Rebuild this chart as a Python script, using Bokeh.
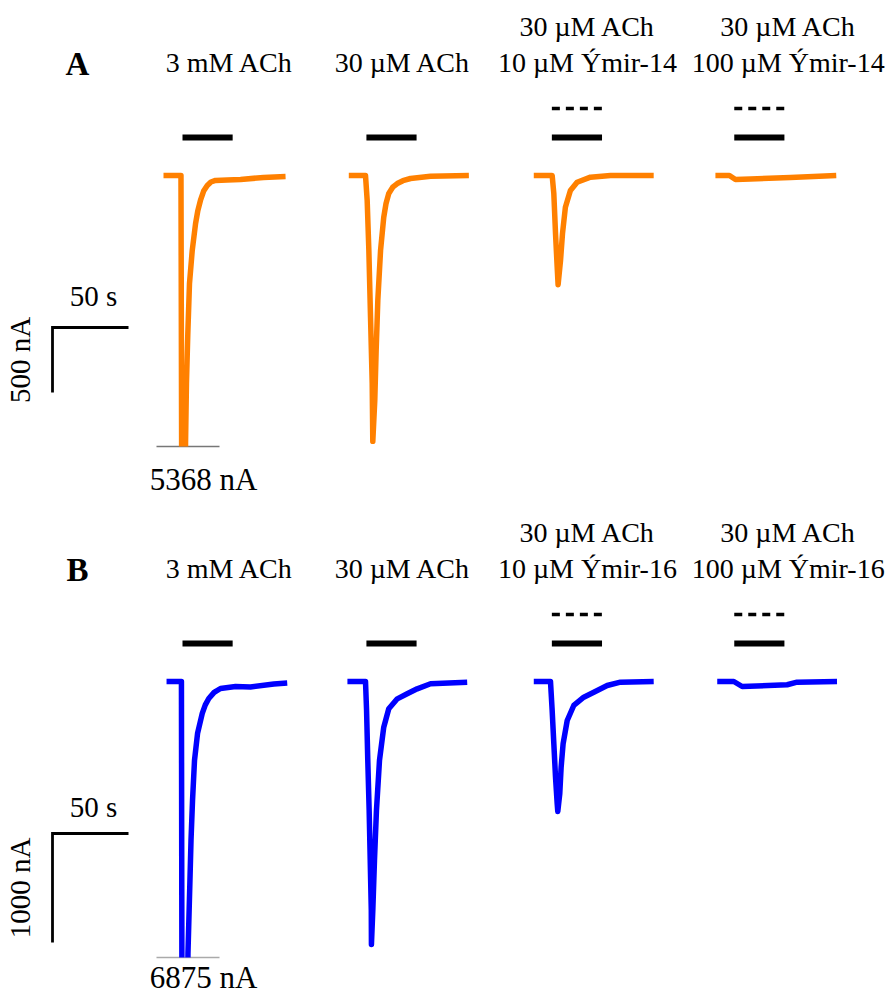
import numpy as np
from bokeh.plotting import figure
from bokeh.layouts import column
from bokeh.models import Range1d
from bokeh.embed import file_html
from bokeh.resources import INLINE
from bokeh.core.properties import value

# ------------------------------------------------------------------ data
# condition labels (two text rows above each trace)
row1_A = ["", "", "30 µM ACh", "30 µM ACh"]
row2_A = ["3 mM ACh", "30 µM ACh", "10 µM Ýmir-14", "100 µM Ýmir-14"]
row1_B = ["", "", "30 µM ACh", "30 µM ACh"]
row2_B = ["3 mM ACh", "30 µM ACh", "10 µM Ýmir-16", "100 µM Ýmir-16"]
toxin_present = [False, False, True, True]

# application window (s, relative to start of each recording)
ach_start, ach_end = 12.5, 45.5

# peak of truncated first responses (nA)
peak_A, peak_B = 5368, 6875

# scale bars
scale_time = 50          # s
scale_cur_A = 500        # nA
scale_cur_B = 1000       # nA

# current traces: time (s) and current (nA)
a1_t = [0, 11.5, 12.6, 14.5, 15.1, 16.0, 17.1, 18.9, 21.1, 22.6, 24.3, 26.4, 28.8, 31.2, 34.2, 42.0, 50.7, 65.8, 80.3]
a1_i = [0, 0, -5368, -2061, -1600, -1215, -830, -577, -369, -270, -192, -120, -77, -50, -38, -35, -31, -15, -8]

a2_t = [0.9, 11.9, 13.0, 14.1, 15.2, 16.3, 16.7, 18.0, 18.9, 20.0, 21.8, 23.9, 25.4, 27.2, 29.8, 32.8, 36.5, 41.5, 54.7, 79.9]
a2_i = [0, 0, -192, -577, -1090, -1600, -2045, -1730, -1346, -961, -577, -321, -215, -138, -90, -62, -40, -23, -5, 0]

a3_t = [0.6, 12.7, 13.8, 14.9, 16.0, 16.6, 18.2, 19.5, 21.4, 24.7, 29.1, 37.9, 51.1, 79.5]
a3_i = [0, 0, -141, -446, -705, -840, -654, -446, -244, -115, -52, -13, 0, 0]

a4_t = [0.1, 9.3, 13.3, 23.2, 49.5, 79.6]
a4_i = [0, 0, -31, -27, -15, 0]

b1_t = [2.0, 11.8, 12.6, 16.1, 17.4, 18.1, 19.1, 20.4, 22.4, 25.5, 27.5, 29.8, 33.3, 37.5, 47.4, 57.2, 72.6, 81.4]
b1_i = [0, 0, -6875, -2494, -1825, -1458, -1091, -724, -477, -293, -215, -156, -100, -64, -46, -50, -23, -14]

b2_t = [0, 11.9, 12.6, 13.4, 14.3, 15.0, 15.7, 15.8, 16.7, 17.8, 19.1, 21.1, 23.9, 27.2, 32.8, 39.3, 45.9, 54.7, 78.8]
b2_i = [0, 0, -266, -724, -1183, -1641, -2100, -2412, -2100, -1641, -1183, -724, -419, -250, -159, -113, -67, -21, -6]

b3_t = [0.6, 11.6, 12.7, 13.8, 14.9, 16.0, 16.4, 17.7, 18.6, 19.9, 22.6, 26.9, 33.5, 40.1, 48.9, 57.6, 79.5]
b3_i = [0, 0, -266, -571, -878, -1121, -1192, -1030, -786, -571, -358, -220, -144, -98, -37, -6, 0]

b4_t = [1.3, 12.2, 17.7, 47.3, 53.8, 80.1]
b4_i = [0, 0, -46, -30, -6, 0]

# ------------------------------------------------------------------ layout
W = 890
H_A, H_B = 506, 492
PX_PER_S = 1.52
PX_PER_NA_A = 0.13
PX_PER_NA_B = 0.109
BASE = 175        # px from top of each panel to trace baseline
LEFT_PX = 163     # px from left edge to time zero of first trace
trace_offsets = [0, 121, 243, 363]          # s
label_centers = [43.4, 157.3, 278.9, 411.0]  # s
SERIF = value("Liberation Serif")
LBL_FS, PEAK_FS, LET_FS, SB_FS = 28, 31, 33, 29


def sx_of(px):
    return (px - LEFT_PX) / PX_PER_S


def baseline_px(px, fs):
    # desired alphabetic baseline (px above trace baseline) -> drawing anchor
    return px + 0.36 * fs


def clip_floor(t, v, floor):
    xs, ys = [], []
    for i in range(len(t)):
        if i > 0:
            t0, v0, t1, v1 = t[i - 1], v[i - 1], t[i], v[i]
            if (v0 >= floor) != (v1 >= floor):
                tc = t0 + (floor - v0) * (t1 - t0) / (v1 - v0)
                xs.append(tc)
                ys.append(floor)
                if v1 < floor:
                    xs.append(np.nan)
                    ys.append(np.nan)
        if v[i] >= floor:
            xs.append(t[i])
            ys.append(v[i])
    return np.array(xs, dtype=float), np.array(ys, dtype=float)


def panel(traces, color, row1, row2, letter, ppn, height, scale_cur,
          peak, break_px, peak_lbl_px, grey, s_lbl_px):
    p = figure(width=W, height=height,
               x_range=Range1d(sx_of(0), sx_of(W)),
               y_range=Range1d(-(height - BASE) / ppn, BASE / ppn),
               output_backend="svg", toolbar_location=None, min_border=0)
    p.axis.visible = False
    p.grid.visible = False
    p.outline_line_color = None
    p.background_fill_color = "white"
    p.border_fill_color = "white"

    floor = -break_px / ppn
    # grey break line for the truncated response
    p.line([sx_of(156), sx_of(219)], [floor, floor], line_color=grey, line_width=1.5)
    p.text(x=[sx_of(203)],
           y=[baseline_px(-break_px - peak_lbl_px, PEAK_FS) / ppn],
           text=[f"{peak} nA"],
           text_font=SERIF, text_font_size=f"{PEAK_FS}px", text_align="center",
           text_baseline="alphabetic", text_color="black")

    for k, (t, i) in enumerate(traces):
        xs, ys = clip_floor(np.array(t) + trace_offsets[k], np.array(i, dtype=float), floor)
        p.line(xs, ys, line_color=color, line_width=5.5, line_join="round", line_cap="butt")
        # ACh application bar
        p.line([trace_offsets[k] + ach_start, trace_offsets[k] + ach_end],
               [38 / ppn, 38 / ppn], line_color="black", line_width=6)
        if toxin_present[k]:
            p.line([trace_offsets[k] + ach_start, trace_offsets[k] + ach_end],
                   [67 / ppn, 67 / ppn], line_color="black", line_width=3.5,
                   line_dash="8 6")

    # labels
    lx, ly, lt = [], [], []
    for k in range(4):
        if row1[k]:
            lx.append(label_centers[k]); ly.append(baseline_px(139, LBL_FS) / ppn); lt.append(row1[k])
        lx.append(label_centers[k]); ly.append(baseline_px(103, LBL_FS) / ppn); lt.append(row2[k])
    p.text(x=lx, y=ly, text=lt, text_font=SERIF, text_font_size=f"{LBL_FS}px",
           text_align="center", text_baseline="alphabetic", text_color="black")
    p.text(x=[sx_of(77)], y=[baseline_px(100, LET_FS) / ppn], text=[letter],
           text_font=SERIF, text_font_size=f"{LET_FS}px", text_font_style="bold",
           text_align="center", text_baseline="alphabetic", text_color="black")

    # scale bars
    bx = sx_of(52)
    by = -152 / ppn
    p.line([bx + scale_time, bx, bx], [by, by, by - scale_cur],
           line_color="black", line_width=2.8, line_join="miter")
    p.text(x=[bx + scale_time / 2 + 2],
           y=[baseline_px(-152 + s_lbl_px, SB_FS) / ppn], text=[f"{scale_time} s"],
           text_font=SERIF, text_font_size=f"{SB_FS}px", text_align="center",
           text_baseline="alphabetic", text_color="black")
    p.text(x=[sx_of(19)], y=[by - scale_cur / 2],
           text=[f"{scale_cur} nA"], angle=np.pi / 2,
           text_font=SERIF, text_font_size=f"{SB_FS}px", text_align="center",
           text_baseline="middle", text_color="black")
    return p


pA = panel([(a1_t, a1_i), (a2_t, a2_i), (a3_t, a3_i), (a4_t, a4_i)], "#ff8000",
           row1_A, row2_A, "A", PX_PER_NA_A, H_A, scale_cur_A,
           peak_A, 271, 44, "#777777", 21)
pB = panel([(b1_t, b1_i), (b2_t, b2_i), (b3_t, b3_i), (b4_t, b4_i)], "#0000ff",
           row1_B, row2_B, "B", PX_PER_NA_B, H_B, scale_cur_B,
           peak_B, 276, 31, "#aaaaaa", 16)

layout = column(pA, pB, spacing=0)
open("out.html", "w").write(file_html(layout, INLINE))
